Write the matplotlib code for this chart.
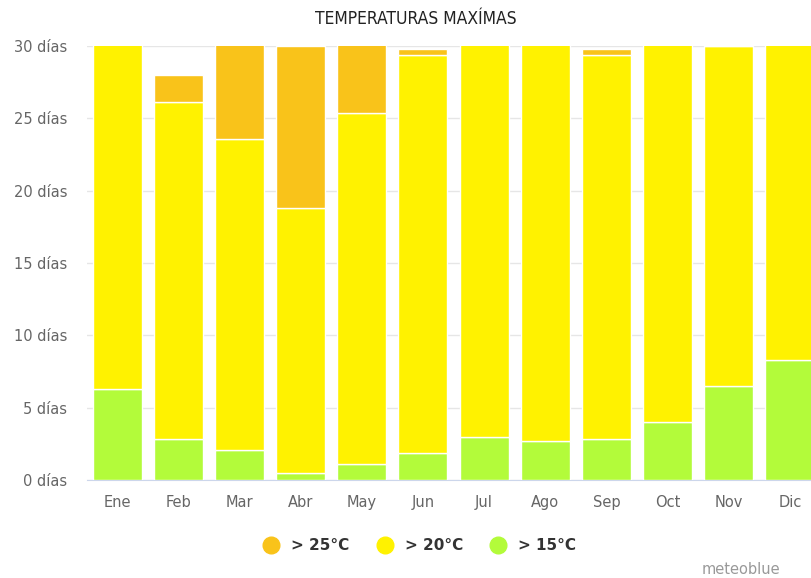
import matplotlib
matplotlib.use("Agg")
import matplotlib.pyplot as plt
from matplotlib.lines import Line2D

months = ["Ene", "Feb", "Mar", "Abr", "May", "Jun", "Jul", "Ago", "Sep", "Oct", "Nov", "Dic"]
gt15 = [6.3, 2.8, 2.1, 0.5, 1.1, 1.9, 3.0, 2.7, 2.8, 4.0, 6.5, 8.3]
gt20 = [24.7, 23.3, 21.5, 18.3, 24.3, 27.5, 28.0, 28.3, 26.6, 27.0, 23.5, 22.7]
gt25 = [0.0, 1.9, 7.4, 11.2, 5.6, 0.4, 0.0, 0.0, 0.4, 0.0, 0.0, 0.0]
yticks = [0, 5, 10, 15, 20, 25, 30]
ytick_labels = [f"{v} días" for v in yticks]

c25 = "#F9C31A"
c20 = "#FFF200"
c15 = "#B3FB3A"

W, H = 811, 578
fig = plt.figure(figsize=(W / 100, H / 100), dpi=100)
ax = fig.add_axes([86.5 / W, 1 - 480 / H, 734 / W, 434 / H])

x = list(range(len(months)))
bw = 0.8
ax.bar(x, gt15, width=bw, color=c15, edgecolor="white", linewidth=1, zorder=3)
ax.bar(x, gt20, width=bw, bottom=gt15, color=c20, edgecolor="white", linewidth=1, zorder=3)
bot2 = [a + b for a, b in zip(gt15, gt20)]
ax.bar(x, gt25, width=bw, bottom=bot2, color=c25, edgecolor="white", linewidth=1, zorder=3)

ax.set_xlim(-0.5, len(months) - 0.5)
ax.set_ylim(0, 30)
ax.set_yticks(yticks)
ax.set_yticklabels(ytick_labels)
ax.set_xticks(x)
ax.set_xticklabels(months)
ax.tick_params(axis="both", length=0, labelsize=10.5, colors="#666666")
ax.tick_params(axis="y", pad=14)
ax.tick_params(axis="x", pad=11)
ax.grid(axis="y", color="#e6e6e6", linewidth=1, zorder=0)
for s in ["top", "right", "left"]:
    ax.spines[s].set_visible(False)
ax.spines["bottom"].set_color("#ccd6eb")

fig.text(416 / W, 1 - 19 / H, "TEMPERATURAS MAXÍMAS", ha="center", va="center",
         fontsize=12.5, color="#222222", fontstretch="condensed", family="DejaVu Sans")

handles = [Line2D([0], [0], marker="o", linestyle="", markersize=12, markerfacecolor=c, markeredgecolor=c)
           for c in (c25, c20, c15)]
fig.legend(handles, ["> 25°C", "> 20°C", "> 15°C"], loc="center", bbox_to_anchor=(416 / W, 1 - 546 / H),
           ncol=3, frameon=False, handletextpad=0.3, columnspacing=1.3,
           prop={"size": 11, "weight": "bold"}, labelcolor="#333333")

fig.text(780 / W, 1 - 569 / H, "meteoblue", ha="right", va="center", fontsize=10.5, color="#999999")

fig.savefig("out.png", dpi=100)
